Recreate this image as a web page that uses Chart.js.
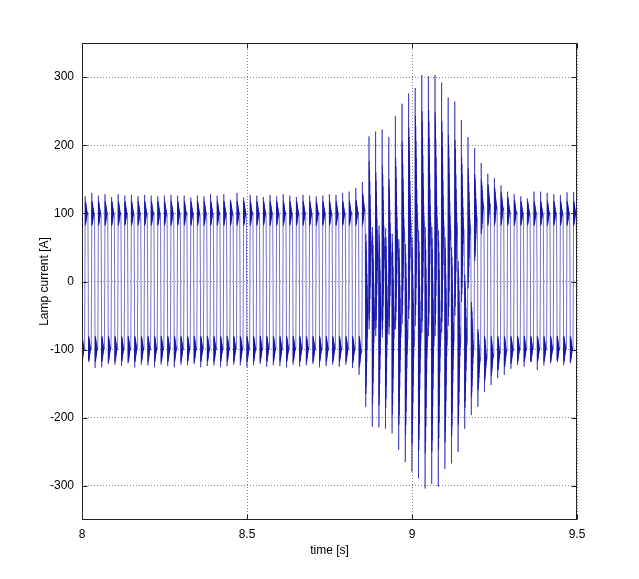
<!DOCTYPE html>
<html>
<head>
<meta charset="utf-8">
<script src="https://cdn.jsdelivr.net/npm/chart.js@4.4.1/dist/chart.umd.min.js"></script>
<style>
  html, body { margin: 0; padding: 0; background: #fff; }
  #wrap { width: 639px; height: 579px; }
</style>
</head>
<body>
<div id="wrap"><canvas id="myChart" width="639" height="579"></canvas></div>
<script>
// axis ticks
const xTicks = [8, 8.5, 9, 9.5];
const yTicks = [-300, -200, -100, 0, 100, 200, 300];

// 50 Hz lamp current, one entry per half-cycle
const period = 0.02;
const firstNegStart = 7.9985;   // start of first negative half-cycle
const firstPosStart = 8.0085;   // start of first positive half-cycle

// negative half-cycles: spike, ripple band outer / inner level
const negSpike = [-115, -115, -127, -126, -121, -122, -124, -120, -126, -122,
  -123, -126, -122, -124, -126, -122, -123, -121, -126, -124,
  -123, -126, -124, -122, -123, -126, -123, -121, -125, -123,
  -124, -126, -122, -125, -123, -121, -126, -124, -122, -125,
  -122, -127, -137, -184, -213, -214, -216, -223, -247, -265,
  -279, -289, -304, -297, -301, -275, -267, -250, -216, -196,
  -184, -162, -152, -142, -137, -128, -122, -125, -118, -130,
  -123, -120, -115, -123, -120, -122];
const negTop = [-118, -118, -118, -118, -118, -118, -118, -118, -118, -118,
  -118, -118, -118, -118, -118, -118, -118, -118, -118, -118,
  -118, -118, -118, -118, -118, -118, -118, -118, -118, -118,
  -118, -118, -118, -118, -118, -118, -118, -118, -118, -118,
  -118, -120, -126, -165, -180, -182, -185, -195, -210, -225,
  -238, -248, -252, -250, -246, -236, -226, -210, -186, -170,
  -160, -146, -138, -131, -126, -121, -118, -118, -118, -118,
  -118, -118, -118, -118, -118, -118];
const negLow = [-80, -80, -80, -80, -80, -80, -80, -80, -80, -80,
  -80, -80, -80, -80, -80, -80, -80, -80, -80, -80,
  -80, -80, -80, -80, -80, -80, -80, -80, -80, -80,
  -80, -80, -80, -80, -80, -80, -80, -80, -80, -80,
  -80, -80, -80, 70, 80, 82, 78, 70, 62, 55,
  65, 75, 80, 80, 75, 65, 50, 30, 10, -30,
  -70, -80, -80, -80, -80, -80, -80, -80, -80, -80,
  -80, -80, -80, -80, -80, -80];

// positive half-cycles
const posSpike = [125, 130, 126, 128, 124, 128, 126, 127, 125, 127,
  126, 125, 126, 127, 126, 126, 123, 126, 125, 128,
  126, 128, 120, 130, 123, 127, 126, 124, 127, 125,
  128, 126, 124, 127, 126, 125, 126, 128, 127, 130,
  132, 137, 146, 213, 220, 223, 212, 243, 261, 276,
  284, 303, 301, 303, 292, 270, 264, 237, 212, 196,
  174, 158, 152, 141, 132, 128, 125, 122, 132, 132,
  130, 128, 127, 131, 131];
const posTop = [118, 118, 118, 118, 118, 118, 118, 118, 118, 118,
  118, 118, 118, 118, 118, 118, 118, 118, 118, 118,
  118, 118, 118, 118, 118, 118, 118, 118, 118, 118,
  118, 118, 118, 118, 118, 118, 118, 118, 118, 118,
  118, 120, 130, 176, 160, 170, 150, 182, 205, 226,
  243, 250, 251, 248, 235, 215, 208, 183, 166, 157,
  150, 143, 138, 131, 124, 120, 118, 118, 118, 118,
  118, 118, 118, 118, 118];
const posLow = [82, 82, 82, 82, 82, 82, 82, 82, 82, 82,
  82, 82, 82, 82, 82, 82, 82, 82, 82, 82,
  82, 82, 82, 82, 82, 82, 82, 82, 82, 82,
  82, 82, 82, 82, 82, 82, 82, 82, 82, 82,
  82, 82, 82, -70, -80, -82, -78, -70, -62, -55,
  -65, -75, -80, -80, -75, -65, -50, -30, -10, 30,
  70, 82, 82, 82, 82, 82, 82, 82, 82, 82,
  82, 82, 82, 82, 82];

// sample layout inside one half-cycle: zero, spike, ripple..., zero
const halfOffsets = [0.0004, 0.0012, 0.0016, 0.002, 0.0024, 0.0028, 0.0032, 0.0036,
  0.004, 0.0044, 0.0048, 0.0052, 0.0056, 0.006, 0.0064, 0.0068, 0.0072, 0.0076,
  0.008, 0.0094];
// ripple position inside the band (0 = inner level, 1 = outer level)
const rippleFrac = [0, 1, 0.05, 0.95, 0.1, 0.88, 0.18, 0.8, 0.25, 0.72, 0.32,
  0.65, 0.4, 0.58, 0.45, 0.53, 0.5, 0.5];

function addHalf(points, start, spike, top, low) {
  const vals = [0, spike].concat(rippleFrac.map(f => low + f * (top - low)), [0]);
  halfOffsets.forEach((dt, i) => points.push({x: start + dt, y: vals[i]}));
}

const points = [];
for (let k = 0; k < negSpike.length; k++) {
  addHalf(points, firstNegStart + k * period, negSpike[k], negTop[k], negLow[k]);
  if (k < posSpike.length) {
    addHalf(points, firstPosStart + k * period, posSpike[k], posTop[k], posLow[k]);
  }
}

const font = {family: "'Liberation Sans', Arial, sans-serif", size: 12};

// MATLAB-like box with inward ticks
const frame = {
  id: 'frame',
  afterDraw(chart) {
    const {ctx, chartArea: a, scales: {x, y}} = chart;
    const L = Math.round(a.left) + 0.5, R = Math.round(a.right) - 0.5;
    const T = Math.round(a.top) + 0.5, B = Math.round(a.bottom) - 0.5;
    ctx.save();
    ctx.strokeStyle = '#222';
    ctx.lineWidth = 1;
    ctx.beginPath();
    xTicks.forEach(v => {
      const px = Math.round(x.getPixelForValue(v)) + 0.5;
      ctx.moveTo(px, B); ctx.lineTo(px, B - 5);
      ctx.moveTo(px, T); ctx.lineTo(px, T + 5);
    });
    yTicks.forEach(v => {
      const py = Math.round(y.getPixelForValue(v)) + 0.5;
      ctx.moveTo(L, py); ctx.lineTo(L + 5, py);
      ctx.moveTo(R, py); ctx.lineTo(R - 5, py);
    });
    ctx.stroke();
    ctx.strokeRect(L, T, R - L, B - T);
    ctx.restore();
  }
};

new Chart(document.getElementById("myChart"), {
    type: 'line',
    data: {
        datasets: [{
            data: points,
            borderColor: "rgb(22,22,170)",
            borderWidth: 0.6,
            // a (practically) solid dash keeps every sub-pixel sample instead of the fast path
            borderDash: [100000, 1],
            pointRadius: 0,
            tension: 0,
            fill: false
        }]
    },
    options: {
        responsive: false,
        animation: false,
        events: [],
        layout: {padding: {left: 0, top: 43, right: 62, bottom: 0}},
        plugins: {
            legend: {display: false},
            tooltip: {enabled: false}
        },
        scales: {
            x: {
                type: 'linear',
                min: 8,
                max: 9.5,
                afterBuildTicks: s => { s.ticks = xTicks.map(v => ({value: v})); },
                afterFit: s => { s.height = 59; },
                grid: {color: '#8c8c8c', drawTicks: false},
                border: {display: false, dash: [1, 2]},
                ticks: {font: font, color: '#000', padding: 7, maxRotation: 0, callback: v => String(v)},
                title: {display: true, text: 'time [s]', font: font, color: '#000', padding: {top: 0, bottom: 21}}
            },
            y: {
                min: -350,
                max: 350,
                afterBuildTicks: s => { s.ticks = yTicks.map(v => ({value: v})); },
                afterFit: s => { s.width = 82; },
                grid: {color: '#8c8c8c', drawTicks: false},
                border: {display: false, dash: [1, 2]},
                ticks: {font: font, color: '#000', padding: 8, callback: v => String(v)},
                title: {display: true, text: 'Lamp current [A]', font: font, color: '#000', padding: {top: 37, bottom: 0}}
            }
        }
    },
    plugins: [frame]
});
</script>
</body>
</html>
